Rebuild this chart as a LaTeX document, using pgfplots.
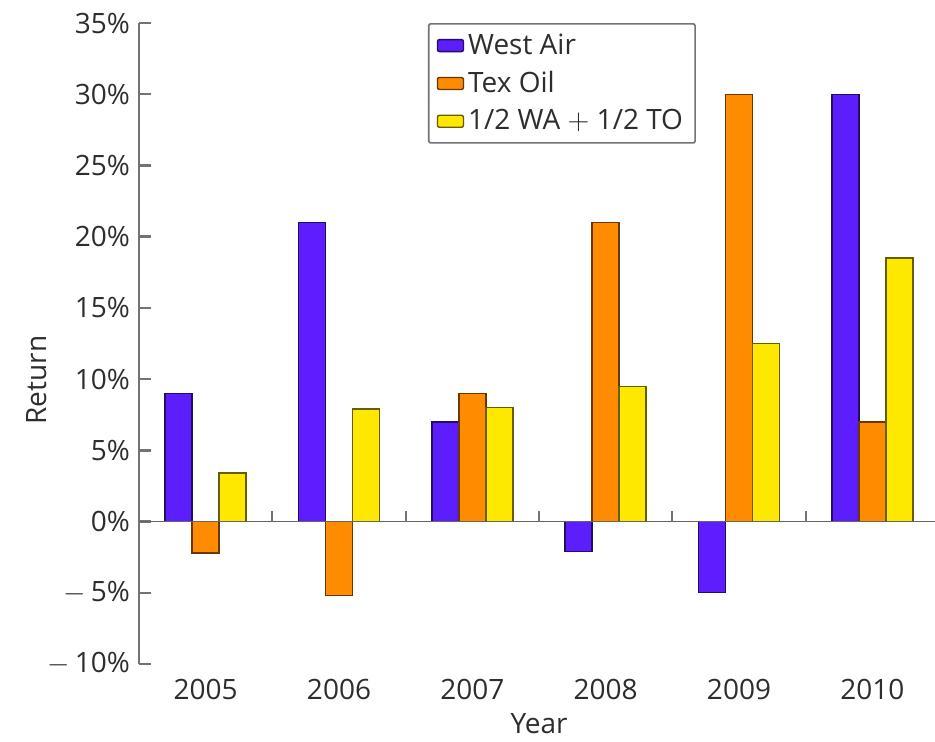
\documentclass[border=0pt]{standalone}
\usepackage{fontspec}
\setmainfont{Open Sans}
\usepackage{pgfplots}
\pgfplotsset{compat=1.18}
\definecolor{wa}{RGB}{92,30,255}
\definecolor{to}{RGB}{255,140,0}
\definecolor{avg}{RGB}{255,232,0}
\definecolor{txt}{RGB}{45,45,45}
\begin{document}
\begin{tikzpicture}
\begin{axis}[
  at={(69.5pt,38.5pt)}, anchor=south west,
  scale only axis, width=398pt, height=320.5pt,
  xmin=-0.5, xmax=5.47, ymin=-10, ymax=35,
  axis y line=left, axis x line=bottom,
  x axis line style={draw=none},
  y axis line style={-, draw=black!55, line width=1.2pt},
  ytick={-10,-5,0,5,10,15,20,25,30,35},
  yticklabels={$-$\,10\%,$-$\,5\%,0\%,5\%,10\%,15\%,20\%,25\%,30\%,35\%},
  ytick style={draw=black!55, line width=1.2pt},
  tick align=inside, major tick length=6pt,
  xtick={0,1,2,3,4,5},
  xticklabels={2005,2006,2007,2008,2009,2010},
  xtick style={draw=none},
  /pgf/number format/assume math mode=true,
  tick label style={font=\fontsize{14}{16}\selectfont, text=txt},
  yticklabel style={xshift=-1pt},
  xticklabel style={yshift=2pt},
  label style={font=\fontsize{14}{16}\selectfont, text=txt},
  xlabel={Year}, ylabel={Return},
  xlabel style={at={(axis description cs:0.5025,-0.093)}, anchor=center},
  ylabel style={at={(axis description cs:-0.128,0.443)}, anchor=center},
  ybar=0pt, bar width=13.5pt,
  legend style={at={(0.363,1)}, anchor=north west, draw=black!55, line width=0.8pt,
    rounded corners=1pt, font=\fontsize{14}{16}\selectfont, text=txt,
    row sep=3pt, inner xsep=4pt, inner ysep=3pt,
    /tikz/every even column/.append style={column sep=3pt}},
  legend cell align=left,
  legend image code/.code={\draw[#1, line width=0.7pt, rounded corners=1pt] (0pt,-3pt) rectangle (13pt,3pt);},
]
\addplot[fill=wa, draw=wa!40!black, line width=0.7pt] coordinates {(0,9) (1,21) (2,7) (3,-2.1) (4,-5) (5,30)};
\addplot[fill=to, draw=to!40!black, line width=0.7pt] coordinates {(0,-2.2) (1,-5.2) (2,9) (3,21) (4,30) (5,7)};
\addplot[fill=avg, draw=avg!40!black, line width=0.7pt] coordinates {(0,3.4) (1,7.9) (2,8) (3,9.5) (4,12.5) (5,18.5)};
\legend{West Air, Tex Oil, 1/2 WA $+$ 1/2 TO}
\draw[black!60, line width=0.8pt] (axis cs:-0.5,0) -- (axis cs:5.47,0);
\pgfplotsinvokeforeach{0.5,1.5,2.5,3.5,4.5}{\draw[black!55, line width=1pt] (axis cs:#1,0) -- (axis cs:#1,0.77);}
\end{axis}
\pgfresetboundingbox
\useasboundingbox (0,0) rectangle (467.5pt,370.5pt);
\end{tikzpicture}
\end{document}
